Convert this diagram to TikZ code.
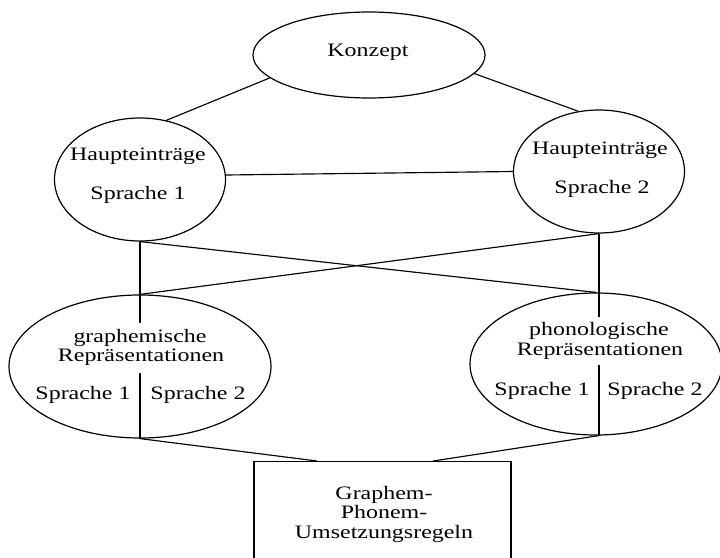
\documentclass[tikz,border=0pt]{standalone}
\usepackage{fontspec}
\setmainfont{Liberation Serif}
\usepackage{graphicx}
\usetikzlibrary{shapes.geometric,calc}
\newcommand{\wx}[1]{\scalebox{1.26}[1]{#1}}
\begin{document}
\begin{tikzpicture}[x=1pt,y=-1pt,
  oval/.style={draw, ellipse, inner sep=0pt, line width=1.2pt},
  lbl/.style={font=\fontsize{19}{19}\selectfont, inner sep=0pt, anchor=base},
  link/.style={draw, line width=1.15pt}]
\useasboundingbox (0,0) rectangle (720,557);
\fill[white] (0,0) rectangle (720,557);

% ellipses
\node[oval, minimum width=232, minimum height=86] (k) at (369,55) {};
\node[oval, minimum width=171, minimum height=123] (h1) at (140,179.5) {};
\node[oval, minimum width=171, minimum height=123] (h2) at (599,171.5) {};
\node[oval, minimum width=262, minimum height=143] (gr) at (140,366.5) {};
\node[oval, minimum width=252, minimum height=142] (ph) at (596,364) {};
\node[draw, rectangle, line width=1.2pt, minimum width=257, minimum height=130, inner sep=0pt, anchor=north] (box) at (382.5,461) {};

% texts
\node[lbl] (kt) at (368,56) {\wx{Konzept}};
\node[lbl] (h1a) at (138,160) {\wx{Haupteinträge}};
\node[lbl] (h1b) at (138,199) {\wx{Sprache 1}};
\node[lbl] (h2a) at (600,154) {\wx{Haupteinträge}};
\node[lbl] (h2b) at (602,193) {\wx{Sprache 2}};
\node[lbl] (gra) at (140,342) {\wx{graphemische}};
\node[lbl] (grb) at (141,361.5) {\wx{Repräsentationen}};
\node[lbl] (grc) at (83,399) {\wx{Sprache 1}};
\node[lbl] (grd) at (198,399) {\wx{Sprache 2}};
\node[lbl] (pha) at (599,335.5) {\wx{phonologische}};
\node[lbl] (phb) at (600,355) {\wx{Repräsentationen}};
\node[lbl] (phc) at (542,395) {\wx{Sprache 1}};
\node[lbl] (phd) at (655,395) {\wx{Sprache 2}};
\node[lbl] (bxa) at (384,499) {\wx{Graphem-}};
\node[lbl] (bxb) at (384,518.5) {\wx{Phonem-}};
\node[lbl] (bxc) at (384,538) {\wx{Umsetzungsregeln}};

% connectors
\draw[link] (k.193) -- (h1.66);
\draw[link] (k.-10) -- (h2.109);
\draw[link] (h1.3) -- (h2.180);
\draw[link] (h1.south) -- (ph.north);
\draw[link] (h2.south) -- (gr.north);
\coordinate (v1) at (140,323);
\coordinate (v2) at (599,317);
\draw[link] (h1.south) -- (v1);
\draw[link] (h2.south) -- (v2);
\coordinate (d1) at (140,373);
\coordinate (d2) at (599,365);
\draw[link] (d1) -- (d1 |- gr.south);
\draw[link] (d2) -- (d2 |- ph.south);
\draw[link] (d1 |- gr.south) -- ([xshift=-65.5]box.north);
\draw[link] (d2 |- ph.south) -- ([xshift=50.5]box.north);
\end{tikzpicture}
\end{document}
